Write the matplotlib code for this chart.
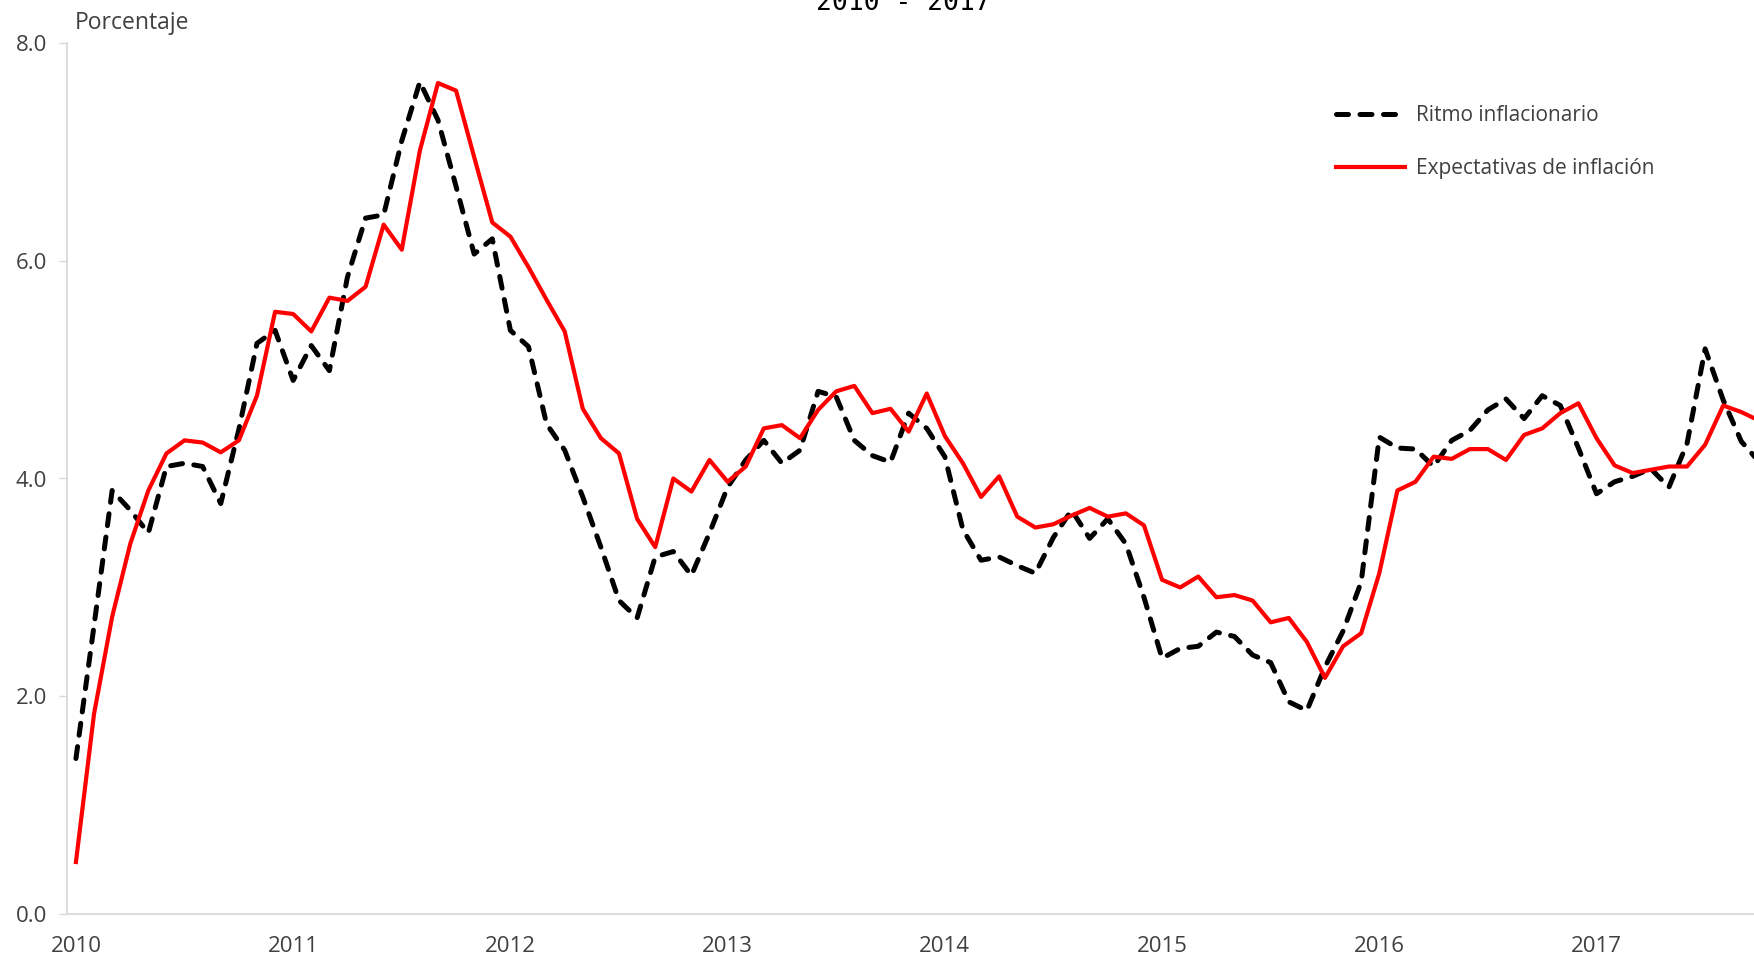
import matplotlib
matplotlib.use("Agg")
import matplotlib.pyplot as plt
import numpy as np

# monthly data, Jan 2010 onwards
ritmo = [1.43, 2.65, 3.89, 3.71, 3.50, 4.11, 4.14, 4.11, 3.77, 4.45, 5.24, 5.36,
         4.90, 5.22, 4.99, 5.85, 6.39, 6.42, 7.10, 7.64, 7.29, 6.68, 6.06, 6.20,
         5.36, 5.21, 4.50, 4.26, 3.83, 3.37, 2.88, 2.72, 3.28, 3.33, 3.11, 3.50,
         3.92, 4.17, 4.35, 4.14, 4.26, 4.80, 4.75, 4.35, 4.21, 4.15, 4.60, 4.46,
         4.20, 3.53, 3.25, 3.28, 3.20, 3.13, 3.46, 3.71, 3.45, 3.63, 3.40, 2.91,
         2.35, 2.44, 2.46, 2.59, 2.55, 2.38, 2.31, 1.95, 1.87, 2.27, 2.60, 3.05,
         4.38, 4.28, 4.27, 4.11, 4.35, 4.44, 4.63, 4.73, 4.55, 4.76, 4.67, 4.28,
         3.86, 3.97, 4.02, 4.09, 3.92, 4.32, 5.19, 4.72, 4.34, 4.15]
expectativas = [0.48, 1.84, 2.73, 3.40, 3.89, 4.23, 4.35, 4.33, 4.24, 4.35, 4.76, 5.53,
                5.51, 5.35, 5.66, 5.63, 5.76, 6.33, 6.10, 7.01, 7.63, 7.56, 6.95, 6.35,
                6.22, 5.94, 5.64, 5.35, 4.64, 4.37, 4.23, 3.63, 3.37, 4.00, 3.88, 4.17,
                3.97, 4.11, 4.46, 4.49, 4.37, 4.63, 4.80, 4.85, 4.60, 4.64, 4.43, 4.78,
                4.39, 4.14, 3.83, 4.02, 3.65, 3.55, 3.58, 3.66, 3.73, 3.65, 3.68, 3.57,
                3.07, 3.00, 3.10, 2.91, 2.93, 2.88, 2.68, 2.72, 2.50, 2.17, 2.46, 2.58,
                3.13, 3.89, 3.97, 4.20, 4.18, 4.27, 4.27, 4.17, 4.40, 4.46, 4.60, 4.69,
                4.37, 4.12, 4.05, 4.08, 4.11, 4.11, 4.31, 4.67, 4.61, 4.53]
years = ["2010", "2011", "2012", "2013", "2014", "2015", "2016", "2017"]
y_ticks = [0.0, 2.0, 4.0, 6.0, 8.0]

plt.rcParams['font.family'] = ['Open Sans', 'DejaVu Sans']
txt_color = "#404040"
grid_gray = "#D9D9D9"

fig = plt.figure(figsize=(17.54, 9.55), dpi=100)
ax = fig.add_axes([66.7 / 1754, 1 - 914.3 / 955, 1 - 66.7 / 1754, (914.3 - 42.7) / 955])

x = np.arange(len(ritmo))
ax.plot(x, ritmo, color="black", linewidth=3.6, linestyle=(0, (2.4, 2.3)),
        dash_capstyle="round", label="Ritmo inflacionario")
ax.plot(x, expectativas, color="#FF0000", linewidth=3.0, label="Expectativas de inflación")

ax.set_xlim(-0.51, 92.7)
ax.set_ylim(0, 8)

ax.set_xticks(np.arange(len(years)) * 12)
ax.set_xticklabels(years)
ax.set_yticks(y_ticks)
ax.set_yticklabels(["%.1f" % v for v in y_ticks])
ax.tick_params(axis="x", length=0, pad=15.5, labelsize=16, labelcolor=txt_color)
ax.tick_params(axis="y", length=6, width=1, color=grid_gray, pad=8,
               labelsize=16, labelcolor=txt_color)

for s in ["top", "right"]:
    ax.spines[s].set_visible(False)
for s in ["left", "bottom"]:
    ax.spines[s].set_color(grid_gray)
    ax.spines[s].set_linewidth(1.3)

fig.text(75 / 1754, 1 - 23 / 955, "Porcentaje", fontsize=16.5, color=txt_color,
         ha="left", va="center")
fig.text(903 / 1754, 1 - 10 / 955, "2010 - 2017", fontsize=19, color="black",
         family="DejaVu Sans Mono", ha="center", va="baseline")

leg = ax.legend(loc="upper left", bbox_to_anchor=(1336 / 1754, 1 - 105 / 955),
                bbox_transform=fig.transFigure, frameon=False, fontsize=15,
                handlelength=3.3, handletextpad=0.55, labelspacing=1.55,
                borderpad=0, borderaxespad=0)
for t in leg.get_texts():
    t.set_color(txt_color)

fig.savefig("out.png", dpi=100)
